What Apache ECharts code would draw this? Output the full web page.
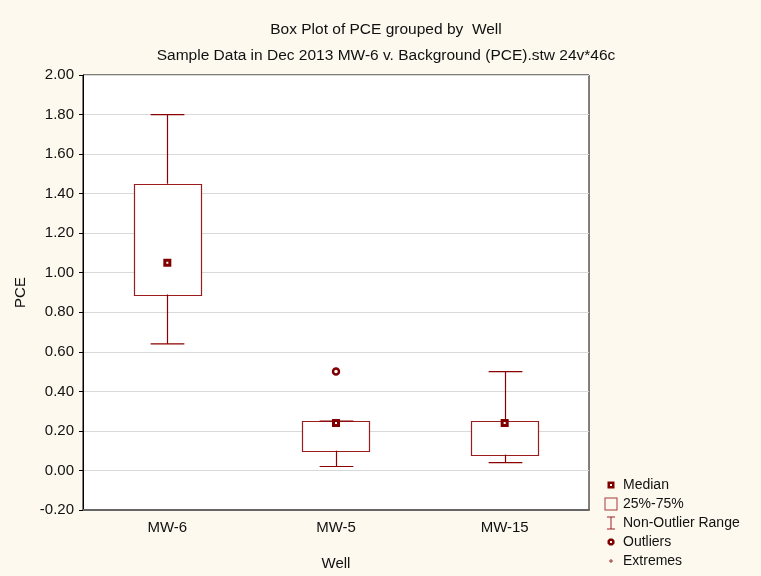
<!DOCTYPE html>
<html>
<head>
<meta charset="utf-8">
<script src="https://cdn.jsdelivr.net/npm/echarts@6/dist/echarts.min.js"></script>
<style>
html, body { margin: 0; padding: 0; background: #fdf9ef; }
#main { width: 761px; height: 576px; }
</style>
</head>
<body>
<div id="main"></div>
<script>
// values
var wells = ['MW-6', 'MW-5', 'MW-15'];
var q1 = [0.89, 0.10, 0.08];
var q3 = [1.45, 0.25, 0.25];
var medians = [1.05, 0.24, 0.24];
var whiskerLow = [0.64, 0.02, 0.04];
var whiskerHigh = [1.80, 0.25, 0.50];
var outliers = [['MW-5', 0.50]];
var extremes = [];

var RED = '#800000';
var FONT = 'Liberation Sans';

var boxData = wells.map(function (w, i) { return [i, q1[i], q3[i]]; });
var rangeData = wells.map(function (w, i) { return [i, whiskerLow[i], whiskerHigh[i], q1[i], q3[i]]; });
var medianData = wells.map(function (w, i) { return [w, medians[i]]; });

// legend icons, padded to a 14x14 box so they keep their own size
var medianIcon = 'path://M0,0M14,14M3.5,3.5H10.5V10.5H3.5Z M6,6V8H8V6Z';
var boxIcon = 'path://M0,0M14,14M0.5,0.5H13.5V13.5H0.5Z M1.5,1.5V12.5H12.5V1.5Z';
var rangeIcon = 'path://M0,0M14,14M3,0.5H11V1.5H7.5V12.5H11V13.5H3V12.5H6.5V1.5H3Z';
var outlierIcon = 'path://M0,0M14,14M5.5,3.5H8.5L10.5,5.5V8.5L8.5,10.5H5.5L3.5,8.5V5.5Z M6,6V8H8V6Z';
var extremeIcon = 'path://M0,0M14,14M6.5,5H7.5V6.5H9V7.5H7.5V9H6.5V7.5H5V6.5H6.5Z';

var chart = echarts.init(document.getElementById('main'));
chart.setOption({
    backgroundColor: '#fdf9ef',
    animation: false,
    textStyle: { fontFamily: FONT },
    title: [{
        text: 'Box Plot of PCE grouped by  Well',
        left: 381, top: 17, textAlign: 'center',
        textStyle: { fontFamily: FONT, fontSize: 15.5, fontWeight: 'normal', color: '#111' }
    }, {
        text: 'Sample Data in Dec 2013 MW-6 v. Background (PCE).stw 24v*46c',
        left: 381, top: 43, textAlign: 'center',
        textStyle: { fontFamily: FONT, fontSize: 15.5, fontWeight: 'normal', color: '#111' }
    }],
    legend: {
        orient: 'vertical',
        left: 604, top: 478, padding: 0,
        itemWidth: 14, itemHeight: 14, itemGap: 5,
        textStyle: { fontFamily: FONT, fontSize: 14, color: '#111' },
        selectedMode: false,
        data: [
            { name: 'Median', icon: medianIcon, itemStyle: { color: RED, borderWidth: 0 } },
            { name: '25%-75%', icon: boxIcon, itemStyle: { color: '#a33a3a', borderWidth: 0 } },
            { name: 'Non-Outlier Range', icon: rangeIcon, itemStyle: { color: '#9b2020', borderWidth: 0 } },
            { name: 'Outliers', icon: outlierIcon, itemStyle: { color: RED, borderWidth: 0 } },
            { name: 'Extremes', icon: extremeIcon, itemStyle: { color: RED, borderWidth: 0 } }
        ]
    },
    grid: {
        left: 83, right: 172, top: 75, bottom: 65,
        show: true, backgroundColor: '#ffffff',
        borderColor: '#000', borderWidth: 1
    },
    xAxis: {
        type: 'category',
        data: wells,
        name: 'Well', nameLocation: 'middle', nameGap: 46,
        nameTextStyle: { fontFamily: FONT, fontSize: 15, color: '#111' },
        axisLine: { onZero: false, lineStyle: { color: '#666', width: 2 } },
        axisTick: { alignWithLabel: true, inside: true, length: 3, lineStyle: { color: '#000' } },
        axisLabel: { fontFamily: FONT, fontSize: 15, color: '#111', margin: 10 },
        splitLine: { show: false }
    },
    yAxis: {
        type: 'value',
        min: -0.2, max: 2.0, interval: 0.2,
        name: 'PCE', nameLocation: 'middle', nameGap: 55,
        nameTextStyle: { fontFamily: FONT, fontSize: 15, color: '#111' },
        axisLine: { show: true, lineStyle: { color: '#000', width: 1 } },
        axisTick: { show: true, length: 4, lineStyle: { color: '#000' } },
        axisLabel: {
            fontFamily: FONT, fontSize: 15, color: '#111', margin: 9,
            formatter: function (v) { return v.toFixed(2); }
        },
        splitLine: { lineStyle: { color: '#d9d9d9', width: 1 } }
    },
    series: [{
        name: '25%-75%',
        type: 'custom',
        data: boxData,
        z: 3,
        renderItem: function (params, api) {
            var i = api.value(0);
            var lo = api.coord([i, api.value(1)]);
            var hi = api.coord([i, api.value(2)]);
            var w = api.size([1, 0])[0] * 0.40;
            return {
                type: 'rect',
                shape: { x: Math.round(lo[0] - w / 2) + 0.5, y: Math.round(hi[1]) + 0.5, width: Math.round(w), height: Math.round(lo[1] - hi[1]) },
                style: { fill: '#fff', stroke: '#9b1c1c', lineWidth: 1.2 }
            };
        }
    }, {
        name: 'Non-Outlier Range',
        type: 'custom',
        data: rangeData,
        z: 4,
        renderItem: function (params, api) {
            var i = api.value(0);
            var low = api.coord([i, api.value(1)]);
            var high = api.coord([i, api.value(2)]);
            var bq1 = api.coord([i, api.value(3)]);
            var bq3 = api.coord([i, api.value(4)]);
            var cap = api.size([1, 0])[0] * 0.20;
            var x = Math.round(low[0]) + 0.5;
            var st = { stroke: '#8b0000', lineWidth: 1.2 };
            return {
                type: 'group',
                children: [
                    { type: 'line', shape: { x1: x, y1: low[1], x2: x, y2: bq1[1] }, style: st },
                    { type: 'line', shape: { x1: x, y1: high[1], x2: x, y2: bq3[1] }, style: st },
                    { type: 'line', shape: { x1: x - cap / 2, y1: low[1], x2: x + cap / 2, y2: low[1] }, style: st },
                    { type: 'line', shape: { x1: x - cap / 2, y1: high[1], x2: x + cap / 2, y2: high[1] }, style: st }
                ]
            };
        }
    }, {
        name: 'Median',
        type: 'scatter',
        data: medianData,
        z: 5,
        symbol: 'path://M0,0H8V8H0Z M3,3V5H5V3Z',
        symbolSize: 8,
        itemStyle: { color: RED, opacity: 1 }
    }, {
        name: 'Outliers',
        type: 'scatter',
        data: outliers,
        z: 5,
        symbol: 'circle',
        symbolSize: 6,
        itemStyle: { color: '#fff', borderColor: RED, borderWidth: 2.5, opacity: 1 }
    }, {
        name: 'Extremes',
        type: 'scatter',
        data: extremes,
        z: 5,
        symbol: extremeIcon,
        symbolSize: 8,
        itemStyle: { color: RED }
    }]
});
</script>
</body>
</html>
